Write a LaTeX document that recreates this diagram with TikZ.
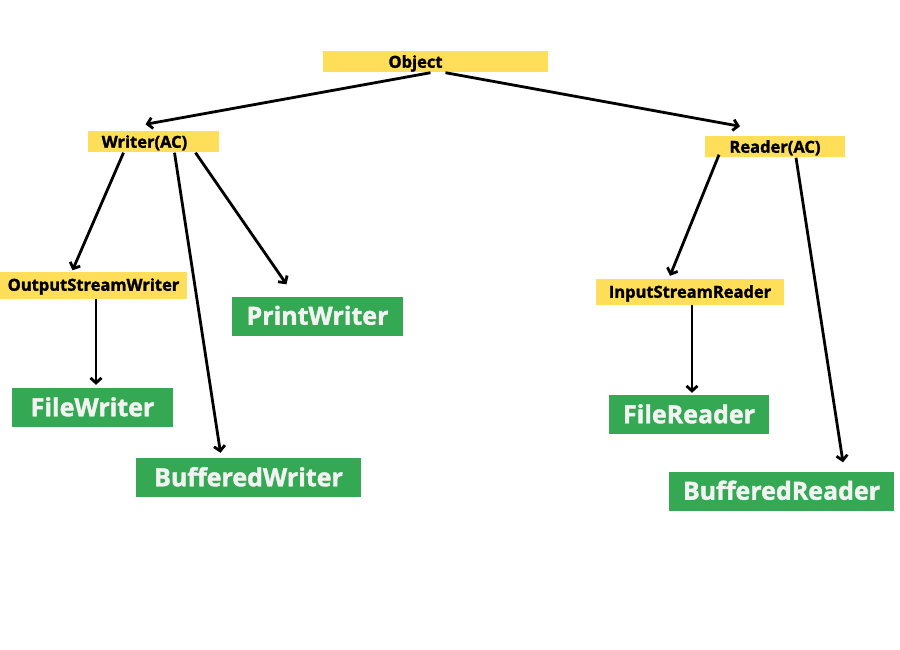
\documentclass[tikz,border=0pt]{standalone}
\usepackage{fontspec}
\setmainfont{Open Sans}[BoldFeatures={FakeBold=1.6}]
\definecolor{myyellow}{RGB}{255,222,89}
\definecolor{mygreen}{RGB}{52,168,83}
\definecolor{mywhite}{RGB}{242,242,242}
\usepackage{tikz}
\usetikzlibrary{calc,positioning,arrows.meta}

\begin{document}
\begin{tikzpicture}[
  x=1pt, y=-1pt,
  abox/.style={
    fill=myyellow,
    inner sep=0pt,
    minimum height=21pt,
    text height=11.5pt, text depth=0pt,
    font=\fontsize{16.5}{19}\selectfont\bfseries
    },
  cbox/.style={
    fill=mygreen,
    inner sep=0pt,
    minimum height=39pt,
    text height=17.5pt, text depth=0pt,
    text=mywhite,
    font=\fontsize{25}{29}\selectfont\bfseries
    },
  arr/.style={
    -{Straight Barb[length=5pt,width=11pt,line width=2.8pt]},
    line width=2.8pt
    }
]
\useasboundingbox (0,0) rectangle (900,650);

% abstract classes
\node[abox, minimum width=225pt] (obj) at (435.5,62) {\kern-40pt Object};
\node[abox, minimum width=131pt] (wr) at (153.5,142) {\kern-18pt Writer(AC)};
\node[abox, minimum width=140pt] (rd) at (775,147) {Reader(AC)};
\node[abox, minimum width=187pt, minimum height=27pt] (osw) at (93.5,285) {OutputStreamWriter};
\node[abox, minimum width=188pt, minimum height=26pt] (isr) at (690,292) {InputStreamReader};

% concrete classes
\node[cbox, minimum width=171pt] (pw) at (317.5,316) {PrintWriter};
\node[cbox, minimum width=161pt] (fw) at (92.5,407.5) {FileWriter};
\node[cbox, minimum width=225pt] (bw) at (248.5,477.5) {BufferedWriter};
\node[cbox, minimum width=160pt] (fr) at (689,414.5) {FileReader};
\node[cbox, minimum width=225pt] (br) at (781.5,491) {BufferedReader};

% arrows
\draw[arr] ($(obj.south)+(-5,0)$) -- ($(wr.north)+(-8,-7)$);
\draw[arr] ($(obj.south)+(10,0)$) -- ($(rd.north)+(-35,-10)$);
\draw[arr] ($(wr.south)+(-30,0)$) -- ($(osw.north)+(-21,-1)$);
\draw[arr] ($(wr.south)+(21,0)$) -- ($(bw.north)+(-28,-5)$);
\draw[arr] ($(wr.south)+(42,0)$) -- ($(pw.north)+(-31,-12)$);
\draw[arr] ($(osw.south)+(2.5,0)$) -- ($(fw.north)+(3.5,-3)$);
\draw[arr] ($(rd.south)+(-56,-3)$) -- ($(isr.north)+(-20,-3)$);
\draw[arr] ($(rd.south)+(21,0)$) -- ($(br.north)+(61.5,-9)$);
\draw[arr] ($(isr.south)+(2,0)$) -- ($(fr.north)+(3,-2)$);
\end{tikzpicture}
\end{document}
